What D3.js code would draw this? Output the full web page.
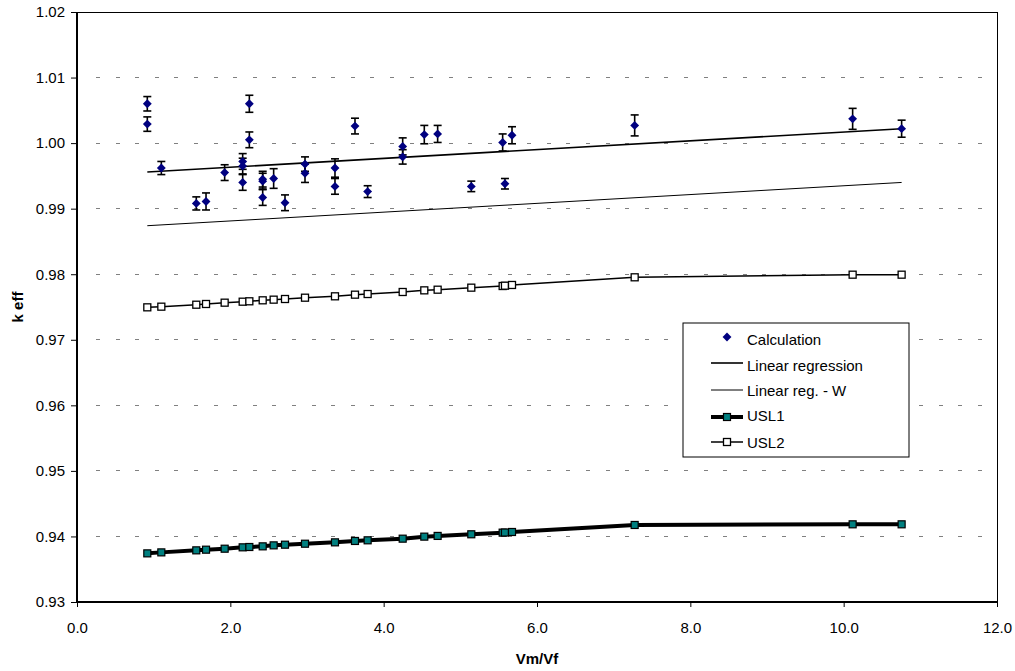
<!DOCTYPE html>
<html><head><meta charset="utf-8">
<script src="https://cdn.jsdelivr.net/npm/d3@7/dist/d3.min.js"></script>
<style>body{margin:0;background:#fff}svg{display:block}text{font-family:"Liberation Sans",Arial,sans-serif}</style>
</head><body>
<svg id="c" width="1015" height="671"></svg>
<script>
const calcX = [0.917,0.917,1.10,1.556,1.683,1.926,2.161,2.161,2.161,2.248,2.248,2.422,2.422,2.422,2.565,2.713,2.974,2.974,3.365,3.365,3.626,3.791,4.248,4.248,4.53,4.704,5.143,5.552,5.582,5.674,7.274,10.117,10.756];
const calcY = [1.0060,1.0029,0.9962,0.9908,0.9911,0.9955,0.9972,0.9965,0.9940,1.0060,1.0005,0.9945,0.9942,0.9917,0.9946,0.9909,0.9968,0.9954,0.9962,0.9934,1.0026,0.9926,0.9995,0.9979,1.0013,1.0014,0.9934,1.0001,0.9938,1.0012,1.0027,1.0037,1.0022];
const calcErr = [0.0011,0.0011,0.0010,0.0010,0.0013,0.0012,0.0012,0.0012,0.0012,0.0013,0.0012,0.0012,0.0012,0.0012,0.0015,0.0012,0.0011,0.0014,0.0014,0.0012,0.0012,0.0009,0.0013,0.0011,0.0014,0.0013,0.0008,0.0013,0.0008,0.0013,0.0016,0.0016,0.0013];
const uslX = [0.917,1.10,1.556,1.683,1.926,2.161,2.248,2.422,2.565,2.713,2.974,3.365,3.626,3.791,4.248,4.53,4.704,5.143,5.552,5.582,5.674,7.274,10.117,10.756];
const usl1 = [0.93742,0.93757,0.93788,0.93798,0.93813,0.93834,0.93839,0.93849,0.93864,0.93874,0.93889,0.9391,0.93931,0.93941,0.93966,0.93997,0.94008,0.94033,0.94058,0.94060,0.94068,0.94175,0.94185,0.94185];
const usl2 = [0.97495,0.97505,0.97535,0.97546,0.97566,0.97581,0.97587,0.97602,0.97612,0.97622,0.97642,0.97663,0.97688,0.97698,0.97729,0.97754,0.97764,0.97795,0.9782,0.97825,0.97836,0.97953,0.97993,0.97993];
const regX = [0.917,10.756];
const regY = [0.9956,1.0022];
const regWY = [0.9874,0.9940];
const xTicks = [0,2,4,6,8,10,12];
const yTicks = [0.93,0.94,0.95,0.96,0.97,0.98,0.99,1.00,1.01,1.02];
const legendLabels = ["Calculation","Linear regression","Linear reg. - W","USL1","USL2"];

const svg = d3.select("#c");
const L=77,R=997,T=12,B=602;
const x = d3.scaleLinear().domain([0,12]).range([L,R]);
const y = d3.scaleLinear().domain([0.93,1.02]).range([B,T]);

// grid
svg.append("g").selectAll("line").data(yTicks.slice(1,-1)).join("line")
  .attr("x1",L+19).attr("x2",R).attr("y1",d=>y(d)).attr("y2",d=>y(d))
  .attr("stroke","#808080").attr("stroke-width",1).attr("stroke-dasharray","4,15.6").attr("shape-rendering","crispEdges");

// frame
svg.append("rect").attr("x",L).attr("y",T).attr("width",R-L).attr("height",B-T)
  .attr("fill","none").attr("stroke","#000").attr("stroke-width",1).attr("shape-rendering","crispEdges");
svg.append("line").attr("x1",L).attr("x2",L).attr("y1",T).attr("y2",B).attr("stroke","#000").attr("stroke-width",2);
svg.append("line").attr("x1",L).attr("x2",R).attr("y1",B).attr("y2",B).attr("stroke","#000").attr("stroke-width",2);

// axes
const xa = svg.append("g").attr("transform",`translate(0,${B})`)
  .call(d3.axisBottom(x).tickValues(xTicks).tickFormat(d3.format(".1f")).tickSize(5).tickPadding(15));
const ya = svg.append("g").attr("transform",`translate(${L},0)`)
  .call(d3.axisLeft(y).tickValues(yTicks).tickFormat(d3.format(".2f")).tickSize(6).tickPadding(6));
[xa,ya].forEach(a=>{a.select(".domain").remove();a.selectAll("text").attr("font-size",15).attr("fill","#000").attr("font-family","Liberation Sans, Arial");a.selectAll("line").attr("stroke","#000");});

svg.append("text").attr("x",(L+R)/2).attr("y",664).attr("text-anchor","middle").attr("font-size",15).attr("font-weight","bold").text("Vm/Vf");
svg.append("text").attr("transform",`translate(23,${(T+B)/2}) rotate(-90)`).attr("text-anchor","middle").attr("font-size",15).attr("font-weight","bold").text("k eff");

const line = d3.line().x(d=>x(d[0])).y(d=>y(d[1]));
// regression lines
svg.append("path").datum(regX.map((v,i)=>[v,regY[i]])).attr("d",line).attr("fill","none").attr("stroke","#000").attr("stroke-width",1.6);
svg.append("path").datum(regX.map((v,i)=>[v,regWY[i]])).attr("d",line).attr("fill","none").attr("stroke","#000").attr("stroke-width",1);

// USL2
svg.append("path").datum(uslX.map((v,i)=>[v,usl2[i]])).attr("d",line).attr("fill","none").attr("stroke","#000").attr("stroke-width",1.5);
svg.append("g").selectAll("rect").data(uslX.map((v,i)=>[v,usl2[i]])).join("rect")
  .attr("x",d=>x(d[0])-3.5).attr("y",d=>y(d[1])-3.5).attr("width",7).attr("height",7)
  .attr("fill","#fff").attr("stroke","#000").attr("stroke-width",1.3);
// USL1
svg.append("path").datum(uslX.map((v,i)=>[v,usl1[i]])).attr("d",line).attr("fill","none").attr("stroke","#000").attr("stroke-width",4);
svg.append("g").selectAll("rect").data(uslX.map((v,i)=>[v,usl1[i]])).join("rect")
  .attr("x",d=>x(d[0])-3.5).attr("y",d=>y(d[1])-3.5).attr("width",7).attr("height",7)
  .attr("fill","#008080").attr("stroke","#000").attr("stroke-width",1.2);

// error bars
const eb = svg.append("g").attr("stroke","#000").attr("stroke-width",1.6);
calcX.forEach((v,i)=>{
  const cx=x(v), y1=y(calcY[i]+calcErr[i]), y2=y(calcY[i]-calcErr[i]);
  eb.append("line").attr("x1",cx).attr("x2",cx).attr("y1",y1).attr("y2",y2);
  eb.append("line").attr("x1",cx-4).attr("x2",cx+4).attr("y1",y1).attr("y2",y1);
  eb.append("line").attr("x1",cx-4).attr("x2",cx+4).attr("y1",y2).attr("y2",y2);
});
// diamonds
const dia = d3.symbol().type(d3.symbolDiamond2).size(50);
svg.append("g").selectAll("path").data(calcX.map((v,i)=>[v,calcY[i]])).join("path")
  .attr("d",dia).attr("transform",d=>`translate(${x(d[0])},${y(d[1])})`).attr("fill","#000080");

// legend
const lg = svg.append("g");
lg.append("rect").attr("x",683).attr("y",323).attr("width",226).attr("height",134).attr("fill","#fff").attr("stroke","#000").attr("stroke-width",1);
const rows=[340,366,391,416,443];
legendLabels.forEach((t,i)=>{
  lg.append("text").attr("x",747).attr("y",rows[i]+5).attr("font-size",15).text(t);
});
lg.append("path").attr("d",dia).attr("transform",`translate(727,${rows[0]-3})`).attr("fill","#000080");
lg.append("line").attr("x1",711).attr("x2",743).attr("y1",rows[1]-3).attr("y2",rows[1]-3).attr("stroke","#000").attr("stroke-width",1.6);
lg.append("line").attr("x1",711).attr("x2",743).attr("y1",rows[2]-1).attr("y2",rows[2]-1).attr("stroke","#000").attr("stroke-width",1);
lg.append("line").attr("x1",711).attr("x2",743).attr("y1",rows[3]+1).attr("y2",rows[3]+1).attr("stroke","#000").attr("stroke-width",4);
lg.append("rect").attr("x",723.5).attr("y",rows[3]-2.5).attr("width",7).attr("height",7).attr("fill","#008080").attr("stroke","#000").attr("stroke-width",1.2);
lg.append("line").attr("x1",711).attr("x2",743).attr("y1",rows[4]-1).attr("y2",rows[4]-1).attr("stroke","#000").attr("stroke-width",1.5);
lg.append("rect").attr("x",723.5).attr("y",rows[4]-4.5).attr("width",7).attr("height",7).attr("fill","#fff").attr("stroke","#000").attr("stroke-width",1.3);
</script>
</body></html>
